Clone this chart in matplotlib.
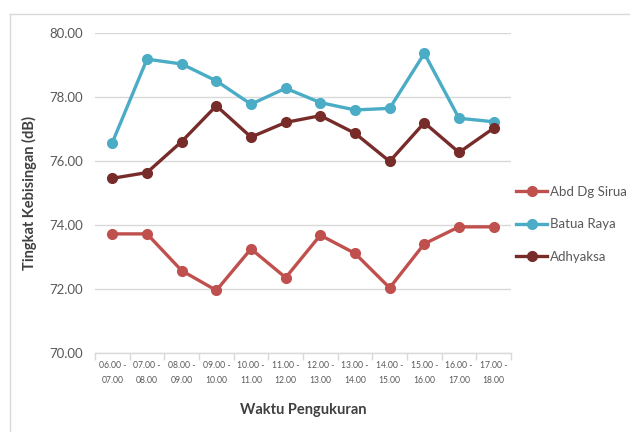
import matplotlib
matplotlib.use("Agg")
import matplotlib.pyplot as plt
from matplotlib.lines import Line2D

plt.rcParams['font.family'] = ['Lato', 'DejaVu Sans']

periods = ["06.00 -\n07.00", "07.00 -\n08.00", "08.00 -\n09.00", "09.00 -\n10.00",
           "10.00 -\n11.00", "11.00 -\n12.00", "12.00 -\n13.00", "13.00 -\n14.00",
           "14.00 -\n15.00", "15.00 -\n16.00", "16.00 -\n17.00", "17.00 -\n18.00"]

abd_dg_sirua = [73.72, 73.72, 72.57, 71.95, 73.25, 72.35, 73.68, 73.11, 72.03, 73.41, 73.94, 73.94]
batua_raya = [76.58, 79.19, 79.04, 78.51, 77.78, 78.28, 77.83, 77.60, 77.65, 79.37, 77.34, 77.23]
adhyaksa = [75.46, 75.64, 76.61, 77.73, 76.75, 77.21, 77.42, 76.87, 75.99, 77.20, 76.27, 77.03]

series = [
    ("Abd Dg Sirua", abd_dg_sirua, "#C0504D"),
    ("Batua Raya", batua_raya, "#4BACC6"),
    ("Adhyaksa", adhyaksa, "#772C2A"),
]

y_ticks = [70, 72, 74, 76, 78, 80]

fig = plt.figure(figsize=(6.3, 4.32), dpi=100)
ax = fig.add_axes([95 / 630, 1 - 352.7 / 432, 416 / 630, 319.4 / 432])

x = list(range(len(periods)))
for name, vals, col in series:
    ax.plot(x, vals, color=col, lw=2.4, marker="o", ms=7, label=name,
            solid_joinstyle="round", zorder=3)

ax.set_xlim(-0.5, len(periods) - 0.5)
ax.set_ylim(70, 80)
ax.set_yticks(y_ticks)
ax.set_yticklabels([f"{v:.2f}" for v in y_ticks])
ax.tick_params(axis="y", length=0, pad=8.5, labelsize=9.5, labelcolor="#595959")
ax.grid(axis="y", color="#D9D9D9", lw=1)
ax.set_axisbelow(True)

ax.set_xticks(x)
ax.set_xticklabels(periods, fontsize=6.2, color="#595959", linespacing=1.9)
ax.tick_params(axis="x", which="major", length=0, pad=6)
ax.set_xticks([i - 0.5 for i in range(len(periods) + 1)], minor=True)
ax.tick_params(axis="x", which="minor", length=5, color="#D9D9D9", width=1)

for s in ["top", "right", "left"]:
    ax.spines[s].set_visible(False)
ax.spines["bottom"].set_color("#D9D9D9")
ax.spines["bottom"].set_linewidth(1)

ax.set_ylabel("Tingkat Kebisingan (dB)", fontsize=10.5, fontweight="bold",
              color="#404040", labelpad=9)
ax.set_xlabel("Waktu Pengukuran", fontsize=10.5, fontweight="bold",
              color="#404040", labelpad=13)

leg = ax.legend(loc="upper left", bbox_to_anchor=(516 / 630, 1 - 186 / 432),
                bbox_transform=fig.transFigure, frameon=False, fontsize=9.5,
                handlelength=2.35, handletextpad=0.25, labelspacing=1.55,
                borderaxespad=0, borderpad=0)
for t in leg.get_texts():
    t.set_color("#595959")

# chart frame
fig.add_artist(Line2D([10 / 630, 1], [1 - 13.5 / 432, 1 - 13.5 / 432],
                      transform=fig.transFigure, color="#D9D9D9", lw=1))
fig.add_artist(Line2D([10 / 630, 10 / 630], [0, 1 - 13.5 / 432],
                      transform=fig.transFigure, color="#D9D9D9", lw=1))

fig.savefig("out.png", dpi=100)
